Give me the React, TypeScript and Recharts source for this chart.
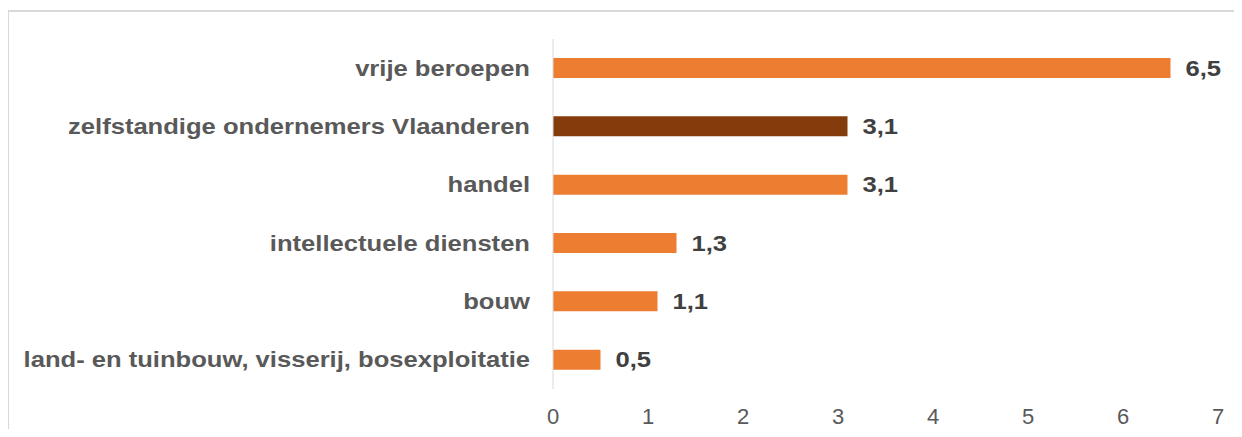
import { BarChart, Bar, XAxis, YAxis, Cell, LabelList } from 'recharts'

const categories = [
  'vrije beroepen',
  'zelfstandige ondernemers Vlaanderen',
  'handel',
  'intellectuele diensten',
  'bouw',
  'land- en tuinbouw, visserij, bosexploitatie',
]
const values = [6.5, 3.1, 3.1, 1.3, 1.1, 0.5]
const highlight = [false, true, false, false, false, false]
const xTicks = [0, 1, 2, 3, 4, 5, 6, 7]

const ORANGE = '#ED7D31'
const BROWN = '#843C0C'
const FONT = 'Liberation Sans, Arial, sans-serif'
const LABEL_SIZE = 21.5
const STRETCH = 1.19
const FRAME = '#d9d9d9'

const data = categories.map((name, i) => ({ name, value: values[i], hl: highlight[i] }))

// category labels look horizontally stretched in the source, so scale them a bit
function CategoryTick({ x, y, payload }: any) {
  return (
    <text
      transform={`translate(${x},${y}) scale(${STRETCH},1)`}
      textAnchor="end"
      dy={7.5}
      fill="#595959"
      fontSize={LABEL_SIZE}
      fontWeight={700}
      fontFamily={FONT}
    >
      {payload.value}
    </text>
  )
}

function ValueLabel({ x, y, width, height, value }: any) {
  const tx = x + width + 15
  const ty = y + height / 2
  return (
    <text
      transform={`translate(${tx},${ty}) scale(${STRETCH},1)`}
      dy={7.5}
      fill="#404040"
      fontSize={LABEL_SIZE}
      fontWeight={700}
      fontFamily={FONT}
    >
      {Number(value).toFixed(1).replace('.', ',')}
    </text>
  )
}

export default function App() {
  return (
    <div style={{ position: 'relative', width: 1242, height: 437, margin: -8, background: '#fff', overflow: 'hidden' }}>
      <BarChart
        width={1242}
        height={437}
        data={data}
        layout="vertical"
        margin={{ top: 39, right: 24, bottom: 18, left: 0 }}
      >
        <XAxis
          type="number"
          domain={[0, 7]}
          ticks={xTicks}
          axisLine={false}
          tickLine={false}
          height={30}
          tickMargin={13}
          tick={{ fill: '#595959', fontSize: 22, fontFamily: FONT }}
        />
        <YAxis
          type="category"
          dataKey="name"
          width={553}
          axisLine={{ stroke: FRAME, strokeWidth: 1 }}
          tickLine={false}
          tickMargin={17}
          tick={<CategoryTick />}
        />
        <Bar dataKey="value" barSize={20} isAnimationActive={false}>
          {data.map((d, i) => (
            <Cell key={i} fill={d.hl ? BROWN : ORANGE} />
          ))}
          <LabelList dataKey="value" content={<ValueLabel />} />
        </Bar>
      </BarChart>
      {/* outer frame: only the top and left edges fall inside the picture */}
      <div style={{ position: 'absolute', left: 7, top: 10, width: 1235, height: 2, background: FRAME, zIndex: 2 }} />
      <div style={{ position: 'absolute', left: 7, top: 10, width: 2, height: 427, background: FRAME, zIndex: 2 }} />
    </div>
  )
}
